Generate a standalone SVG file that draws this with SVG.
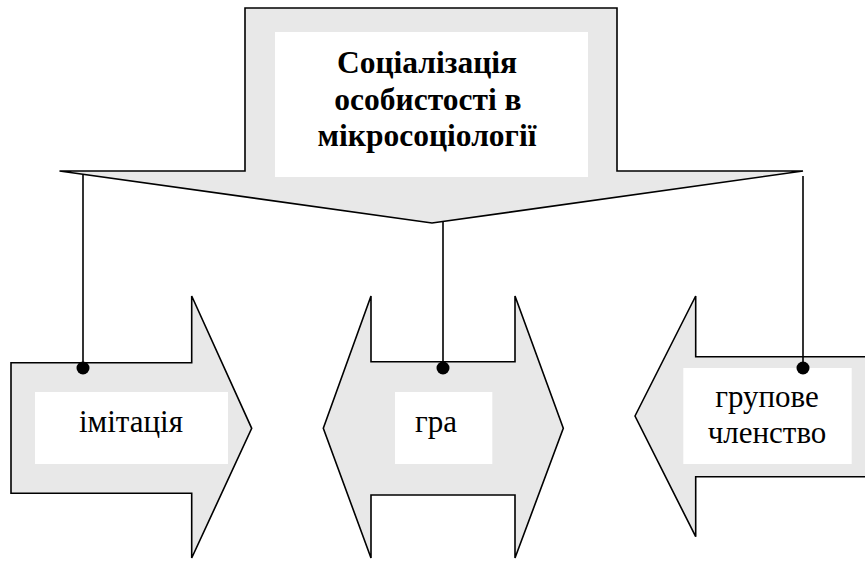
<svg xmlns="http://www.w3.org/2000/svg" width="865" height="561" viewBox="0 0 865 561">
<style>
.shape{fill:#e8e8e8;stroke:#000;stroke-width:1.6}
.box{fill:#fff;stroke:none}
.t{font-family:"Liberation Serif","Times New Roman",serif;font-size:31px;fill:#000;text-anchor:middle}
.tb{font-size:31.5px;font-weight:bold}
.conn{stroke:#000;stroke-width:1.6;fill:none}
.dot{fill:#000;stroke:none}
</style>
<rect width="865" height="561" fill="#fff"/>
<g id="root">
<path class="shape" d="M59.5,171 L245,171 L245,8 L617,8 L617,171 L803,171 L432,223 Z"/>
<rect class="box" x="275" y="32" width="313" height="145"/>
<text class="t tb" x="427" y="73">Соціалізація</text>
<text class="t tb" x="428" y="110">особистості в</text>
<text class="t tb" x="427" y="146">мікросоціології</text>
</g>
<g id="imitation">
<path class="shape" d="M11,362.7 L191.7,362.7 L191.7,296 L251.7,428.3 L191.7,558 L191.7,493.3 L11,493.3 Z"/>
<rect class="box" x="35" y="392" width="193" height="72"/>
<text class="t" x="131" y="432">імітація</text>
</g>
<g id="game">
<path class="shape" d="M323.3,428.3 L371,296 L371,361.7 L515,361.7 L515,296 L563.3,428.3 L515,558 L515,495 L371,495 L371,558 Z"/>
<rect class="box" x="395" y="392" width="97.3" height="72"/>
<text class="t" x="436" y="432">гра</text>
</g>
<g id="membership">
<path class="shape" d="M635,416 L695.7,296 L695.7,356.7 L870,356.7 L870,476.7 L695.7,476.7 L695.7,536.7 Z"/>
<rect class="box" x="683.3" y="368" width="168.4" height="96"/>
<text class="t" x="767" y="406.7">групове</text>
<text class="t" x="767" y="443.3">членство</text>
</g>
<g id="connectors">
<line class="conn" x1="83" y1="175" x2="83" y2="368"/>
<line class="conn" x1="443" y1="221.5" x2="443" y2="368"/>
<line class="conn" x1="803" y1="176" x2="803" y2="368"/>
<circle class="dot" cx="83" cy="368" r="6.5"/>
<circle class="dot" cx="443" cy="368" r="6.5"/>
<circle class="dot" cx="803" cy="368" r="6.5"/>
</g>
</svg>
